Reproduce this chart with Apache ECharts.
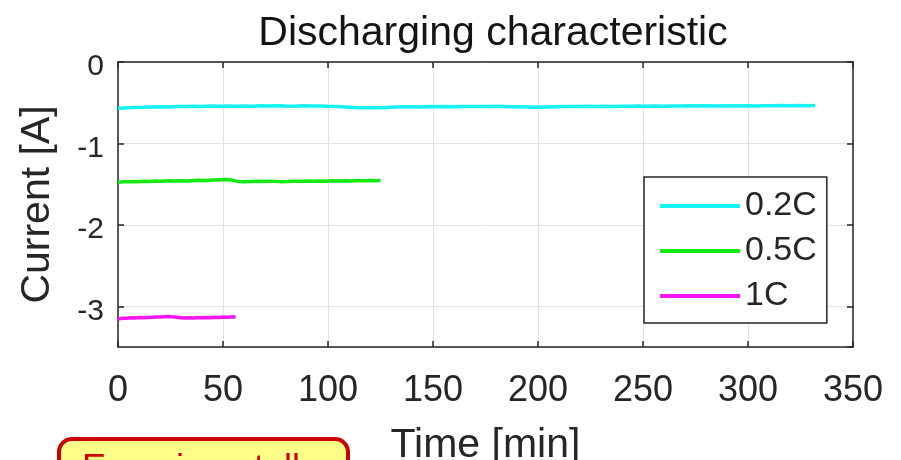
<!DOCTYPE html>
<html>
<head>
<meta charset="utf-8">
<title>Discharging characteristic</title>
<script src="https://cdn.jsdelivr.net/npm/echarts@6/dist/echarts.min.js"></script>
<style>
  html, body { margin: 0; padding: 0; background: #fff; }
  #chart { width: 901px; height: 460px; }
</style>
</head>
<body>
<div id="chart"></div>
<script>
// Discharge current measured at three C-rates
const seriesNames = ['0.2C', '0.5C', '1C'];

const timeC02 = [0, 4, 8, 12, 16, 20, 24, 28, 32, 36, 40, 44, 48, 52, 56, 60, 64, 68, 72, 76,
  80, 84, 88, 92, 96, 100, 104, 108, 112, 116, 120, 124, 128, 132, 136, 140, 144, 148, 152, 156,
  160, 164, 168, 172, 176, 180, 184, 188, 192, 196, 200, 204, 208, 212, 216, 220, 224, 228, 232, 236,
  240, 244, 248, 252, 256, 260, 264, 268, 272, 276, 280, 284, 288, 292, 296, 300, 304, 308, 312, 316,
  320, 324, 328, 332];
const currentC02 = [-0.570, -0.562, -0.558, -0.556, -0.553, -0.549, -0.552, -0.546, -0.548, -0.543,
  -0.546, -0.541, -0.544, -0.540, -0.543, -0.539, -0.542, -0.538, -0.541, -0.537,
  -0.540, -0.542, -0.538, -0.541, -0.539, -0.543, -0.545, -0.552, -0.560, -0.563,
  -0.561, -0.563, -0.558, -0.554, -0.551, -0.549, -0.552, -0.548, -0.550, -0.547,
  -0.549, -0.546, -0.548, -0.545, -0.547, -0.544, -0.546, -0.549, -0.551, -0.553,
  -0.555, -0.552, -0.549, -0.547, -0.545, -0.547, -0.544, -0.546, -0.543, -0.545,
  -0.542, -0.544, -0.541, -0.543, -0.540, -0.542, -0.539, -0.541, -0.538, -0.540,
  -0.537, -0.539, -0.541, -0.538, -0.540, -0.537, -0.539, -0.536, -0.538, -0.535,
  -0.537, -0.534, -0.536, -0.535];

const timeC05 = [0, 3, 6, 9, 12, 15, 18, 21, 24, 27, 30, 33, 36, 39, 42, 45, 48, 51, 54, 57,
  60, 63, 66, 69, 72, 75, 78, 81, 84, 87, 90, 93, 96, 99, 102, 105, 108, 111, 114, 117,
  120, 123, 125];
const currentC05 = [-1.478, -1.472, -1.468, -1.470, -1.465, -1.467, -1.462, -1.464, -1.459, -1.461,
  -1.457, -1.460, -1.455, -1.452, -1.455, -1.449, -1.446, -1.444, -1.450, -1.466,
  -1.470, -1.468, -1.465, -1.467, -1.463, -1.466, -1.470, -1.468, -1.464, -1.466,
  -1.462, -1.465, -1.461, -1.463, -1.459, -1.462, -1.458, -1.460, -1.456, -1.459,
  -1.455, -1.457, -1.455];

const timeC10 = [0, 2, 4, 6, 8, 10, 12, 14, 16, 18, 20, 22, 24, 26, 28, 30, 32, 34, 36, 38,
  40, 42, 44, 46, 48, 50, 52, 54, 56];
const currentC10 = [-3.155, -3.148, -3.146, -3.142, -3.144, -3.139, -3.141, -3.137, -3.135, -3.131,
  -3.133, -3.128, -3.126, -3.130, -3.136, -3.142, -3.145, -3.141, -3.144, -3.139,
  -3.142, -3.137, -3.140, -3.135, -3.137, -3.132, -3.134, -3.130, -3.131];

const lineColors = ['#14f2f2', '#14ea14', '#f514f5'];

const FONT = '"Liberation Sans", Arial, Helvetica, sans-serif';
const INK = '#262626';

function pairs(t, v) { return t.map((x, i) => [x, v[i]]); }
const seriesData = [pairs(timeC02, currentC02), pairs(timeC05, currentC05), pairs(timeC10, currentC10)];

const chart = echarts.init(document.getElementById('chart'), null, { renderer: 'canvas' });

const sharedX = { type: 'value', min: 0, max: 350, interval: 50 };
const sharedY = { type: 'value', min: -3.5, max: 0, splitNumber: 4, minInterval: 1, maxInterval: 1 };
const boxLine = { show: true, onZero: false, lineStyle: { color: INK, width: 1.5 } };
const innerTick = { show: true, inside: true, length: 6, lineStyle: { color: INK, width: 1.5 } };

chart.setOption({
  animation: false,
  backgroundColor: '#ffffff',
  title: {
    text: 'Discharging characteristic',
    left: 488,
    textAlign: 'center',
    top: 8,
    textStyle: { fontFamily: FONT, fontSize: 41, fontWeight: 'normal', color: '#141414' }
  },
  grid: { left: 118, top: 62, width: 735, height: 285, containLabel: false, outerBoundsMode: 'none' },
  legend: {
    orient: 'vertical',
    left: 644,
    top: 177,
    data: seriesNames,
    icon: 'rect',
    itemWidth: 80,
    itemHeight: 4,
    itemGap: 11,
    itemTextGap: 8,
    backgroundColor: '#ffffff',
    borderColor: INK,
    borderWidth: 1.5,
    borderRadius: 0,
    padding: [12, 10, 10, 16],
    textStyle: { fontFamily: FONT, fontSize: 34, color: INK, lineHeight: 32 }
  },
  xAxis: [
    Object.assign({}, sharedX, {
      position: 'bottom',
      name: 'Time [min]',
      nameLocation: 'middle',
      nameGap: 78,
      nameTextStyle: { fontFamily: FONT, fontSize: 41, color: INK },
      axisLine: boxLine,
      axisTick: innerTick,
      axisLabel: { fontFamily: FONT, fontSize: 36, color: INK, margin: 26 },
      splitLine: { show: true, lineStyle: { color: '#e2e2e2', width: 1 } }
    }),
    Object.assign({}, sharedX, {
      position: 'top',
      axisLine: boxLine,
      axisTick: innerTick,
      axisLabel: { show: false },
      splitLine: { show: false }
    })
  ],
  yAxis: [
    Object.assign({}, sharedY, {
      position: 'left',
      name: 'Current [A]',
      nameLocation: 'middle',
      nameGap: 60,
      nameRotate: 90,
      nameTextStyle: { fontFamily: FONT, fontSize: 41, color: INK },
      axisLine: boxLine,
      axisTick: innerTick,
      axisLabel: {
        fontFamily: FONT, fontSize: 30, color: INK, margin: 14, showMinLabel: false,
        verticalAlign: 'top', lineHeight: 10
      },
      splitLine: { show: true, lineStyle: { color: '#e2e2e2', width: 1 } }
    }),
    Object.assign({}, sharedY, {
      position: 'right',
      axisLine: boxLine,
      axisTick: innerTick,
      axisLabel: { show: false },
      splitLine: { show: false }
    })
  ],
  series: seriesNames.map((name, i) => ({
    name: name,
    type: 'line',
    xAxisIndex: 0,
    yAxisIndex: 0,
    data: seriesData[i],
    showSymbol: false,
    symbol: 'none',
    color: lineColors[i],
    lineStyle: { color: lineColors[i], width: 3.5 },
    z: 3
  })),
  graphic: [
    {
      type: 'rect',
      left: 57,
      top: 437,
      shape: { width: 289, height: 60, r: 13 },
      style: { fill: '#ffff88', stroke: '#cc0000', lineWidth: 4 },
      z: 10
    },
    {
      type: 'text',
      left: 82,
      top: 452,
      style: { text: 'Experimentally', fill: '#cc0000', font: '36px ' + FONT },
      z: 11
    }
  ]
});
</script>
</body>
</html>
